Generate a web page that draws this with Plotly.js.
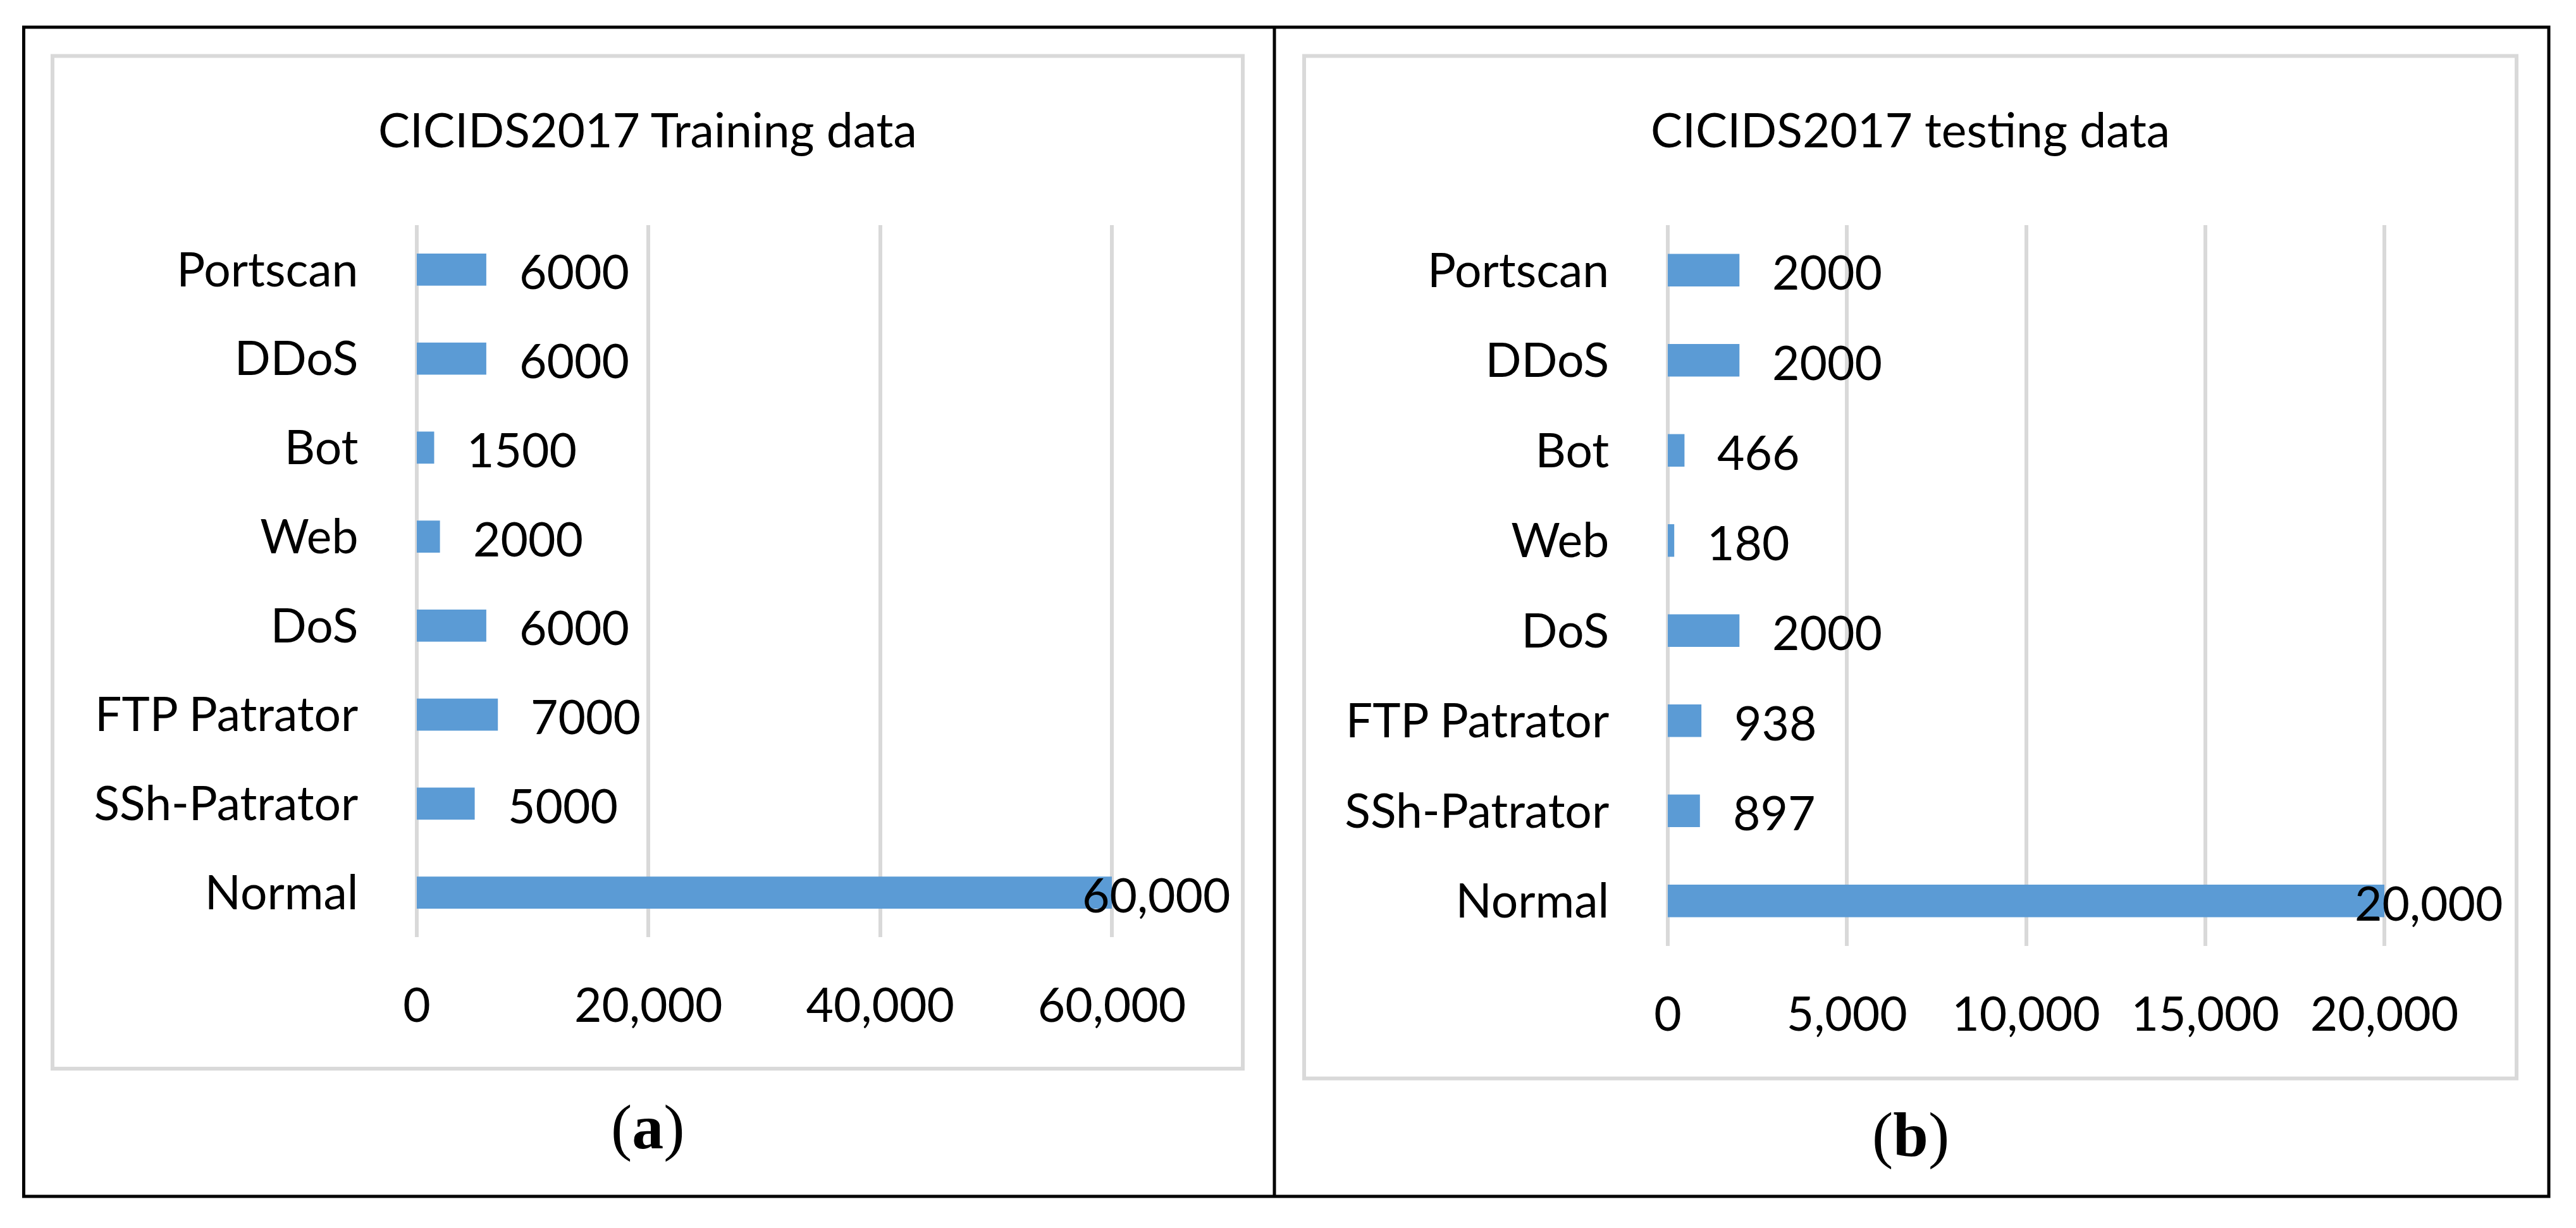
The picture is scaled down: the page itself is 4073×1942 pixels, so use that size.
<!DOCTYPE html>
<html>
<head>
<meta charset="utf-8">
<script src="https://cdn.plot.ly/plotly-3.0.1.min.js"></script>
<style>
  html, body { margin: 0; padding: 0; background: #ffffff; }
  #chart { width: 4073px; height: 1942px; }
</style>
</head>
<body>
<div id="chart"></div>
<script>
// ---- Data ----
const categories = ['Portscan', 'DDoS', 'Bot', 'Web', 'DoS', 'FTP Patrator', 'SSh-Patrator', 'Normal'];
const trainValues = [6000, 6000, 1500, 2000, 6000, 7000, 5000, 60000];
const testValues = [2000, 2000, 466, 180, 2000, 938, 897, 20000];
const trainTicks = [0, 20000, 40000, 60000];
const testTicks = [0, 5000, 10000, 15000, 20000];
const panelTitles = ['CICIDS2017 Training data', 'CICIDS2017 testing data'];
const panelLetters = ['a', 'b'];

// ---- Layout helpers ----
const W = 4073, H = 1942;
const px = x => x / W;
const py = y => 1 - y / H;
const FONT = 'Lato, "Open Sans", sans-serif';
const FS = 75;
const BAR = '#5B9BD5';
const GRID = '#D9D9D9';
const PAD = 0.006; // small range padding so edge gridlines are drawn

function labelText(v) {
  return v >= 10000 ? v.toLocaleString('en-US') : String(v);
}

const panels = [
  { values: trainValues, ticks: trainTicks, title: panelTitles[0], letter: panelLetters[0],
    xdom: [659, 1758], ytop: 356, ybot: 1482, box: [83, 88.5, 1965, 1690], letterY: 1782 },
  { values: testValues, ticks: testTicks, title: panelTitles[1], letter: panelLetters[1],
    xdom: [2637, 3770], ytop: 356, ybot: 1496, box: [2062, 88.5, 3979, 1705.5], letterY: 1794 }
];

const data = [];
const annotations = [];
const shapes = [];
const layout = {
  width: W, height: H,
  margin: { l: 0, r: 0, t: 0, b: 0, pad: 0 },
  paper_bgcolor: '#ffffff',
  plot_bgcolor: 'rgba(0,0,0,0)',
  showlegend: false,
  bargap: 0.64,
  font: { family: FONT, size: FS, color: '#000000' }
};

panels.forEach((p, i) => {
  const sfx = i === 0 ? '' : '2';
  const xa = 'x' + sfx, ya = 'y' + sfx;
  const xmax = p.ticks[p.ticks.length - 1];
  const span = p.xdom[1] - p.xdom[0];

  data.push({
    type: 'bar', orientation: 'h',
    x: p.values, y: categories,
    xaxis: xa, yaxis: ya,
    marker: { color: BAR, line: { width: 0 } },
    hoverinfo: 'none'
  });

  layout['xaxis' + sfx] = {
    domain: [px(p.xdom[0] - PAD * span), px(p.xdom[1] + PAD * span)],
    anchor: ya,
    range: [-PAD * xmax, xmax * (1 + PAD)],
    tickmode: 'array', tickvals: p.ticks,
    tickformat: ',d',
    showgrid: true, gridcolor: GRID, gridwidth: 6,
    zeroline: false, showline: false, ticks: '',
    ticklabelstandoff: 58,
    tickfont: { family: FONT, size: FS, color: '#000' },
    fixedrange: true
  };
  layout['yaxis' + sfx] = {
    domain: [py(p.ybot), py(p.ytop)],
    anchor: xa,
    type: 'category',
    autorange: 'reversed',
    showgrid: false, zeroline: false, showline: false, ticks: '',
    ticklabelstandoff: Math.round(92 - PAD * span),
    tickfont: { family: FONT, size: FS, color: '#000' },
    fixedrange: true
  };

  // data labels
  p.values.forEach((v, k) => {
    const atEnd = v >= xmax;
    annotations.push({
      xref: xa, yref: ya, x: v, y: categories[k],
      text: labelText(v), showarrow: false,
      xanchor: 'left', yanchor: 'middle',
      xshift: atEnd ? -49 : 50, yshift: -2,
      font: { family: FONT, size: FS, color: '#000' }
    });
  });

  // panel title
  const cx = (p.box[0] + p.box[2]) / 2;
  annotations.push({
    xref: 'paper', yref: 'paper', x: px(cx), y: py(204),
    text: p.title, showarrow: false, xanchor: 'center', yanchor: 'middle',
    font: { family: FONT, size: FS, color: '#000' }
  });
  // panel letter
  annotations.push({
    xref: 'paper', yref: 'paper', x: px(cx), y: py(p.letterY),
    text: '(<b>' + p.letter + '</b>)', showarrow: false, xanchor: 'center', yanchor: 'middle',
    font: { family: '"Liberation Serif", "DejaVu Serif", serif', size: 100, color: '#000' }
  });

  // inner gray chart-area box
  shapes.push({
    type: 'rect', xref: 'paper', yref: 'paper', layer: 'below',
    x0: px(p.box[0]), x1: px(p.box[2]), y0: py(p.box[3]), y1: py(p.box[1]),
    line: { color: GRID, width: 6 }, fillcolor: 'rgba(0,0,0,0)'
  });
});

// outer black frame and divider
shapes.push({
  type: 'rect', xref: 'paper', yref: 'paper',
  x0: px(37.5), x1: px(4030), y0: py(1892), y1: py(43),
  line: { color: '#000', width: 5 }, fillcolor: 'rgba(0,0,0,0)'
});
shapes.push({
  type: 'line', xref: 'paper', yref: 'paper',
  x0: px(2015), x1: px(2015), y0: py(1892), y1: py(43),
  line: { color: '#000', width: 5 }
});

layout.annotations = annotations;
layout.shapes = shapes;

Plotly.newPlot('chart', data, layout, { staticPlot: true, displayModeBar: false });
</script>
</body>
</html>
